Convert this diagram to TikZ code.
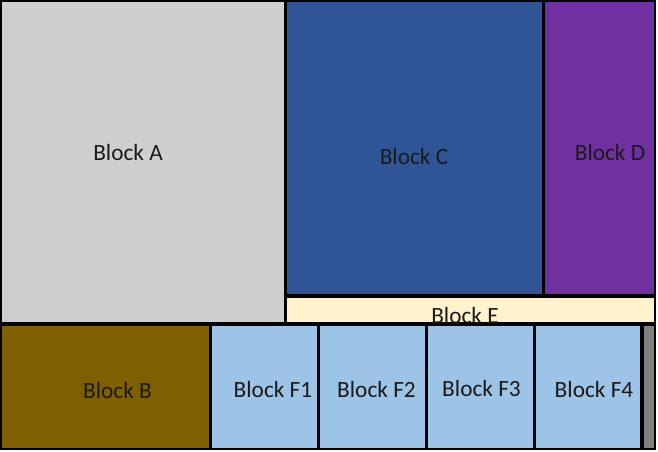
\documentclass[tikz,border=0pt]{standalone}
\usepackage{fontspec}
\setmainfont{Carlito}
\definecolor{cA}{HTML}{D0CECE}
\definecolor{cB}{HTML}{7F6000}
\definecolor{cC}{HTML}{2F5597}
\definecolor{cD}{HTML}{7030A0}
\definecolor{cE}{HTML}{FFF2CC}
\definecolor{cF}{HTML}{9DC3E6}
\definecolor{cG}{HTML}{808080}
\definecolor{txt}{HTML}{1A1A1A}
\tikzset{
  blk/.style={fill=#1, draw=none},
  lbl/.style={font=\fontsize{23.3}{26}\selectfont, text=txt, inner sep=0pt, anchor=center}
}
\begin{document}
\begin{tikzpicture}[x=1pt,y=-1pt]
\useasboundingbox (0,0) rectangle (658,451);
\fill[white] (0,0) rectangle (658,451);
\fill[black] (0,0) rectangle (656,450);
% blocks
\fill[blk=cA] (1.5,1.5) rectangle (284,322);
\fill[blk=cC] (287,1.5) rectangle (541.5,294);
\fill[blk=cD] (545,1.5) rectangle (654,294);
\fill[blk=cE] (287,297.5) rectangle (654,322);
\fill[blk=cB] (1.5,325.5) rectangle (208.5,447.5);
\fill[blk=cF] (212,325.5) rectangle (316.5,447.5);
\fill[blk=cF] (320,325.5) rectangle (424.5,447.5);
\fill[blk=cF] (428,325.5) rectangle (532.5,447.5);
\fill[blk=cF] (536,325.5) rectangle (640,447.5);
\fill[blk=cG] (643.5,325.5) rectangle (654,447.5);
% labels
\node[lbl] (la) at (128,152) {Block A};
\node[lbl] (lc) at (414,156) {Block C};
\node[lbl] (ld) at (610,152.5) {Block D};
\begin{scope}
\clip (287,297.5) rectangle (654,322);
\node[lbl] (le) at (465,315.5) {Block E};
\end{scope}
\node[lbl] (lb) at (117.5,390) {Block B};
\node[lbl] (lf1) at (273,389.5) {Block F1};
\node[lbl] (lf2) at (376.5,389.5) {Block F2};
\node[lbl] (lf3) at (481.5,388) {Block F3};
\node[lbl] (lf4) at (594,389.5) {Block F4};
\end{tikzpicture}
\end{document}
